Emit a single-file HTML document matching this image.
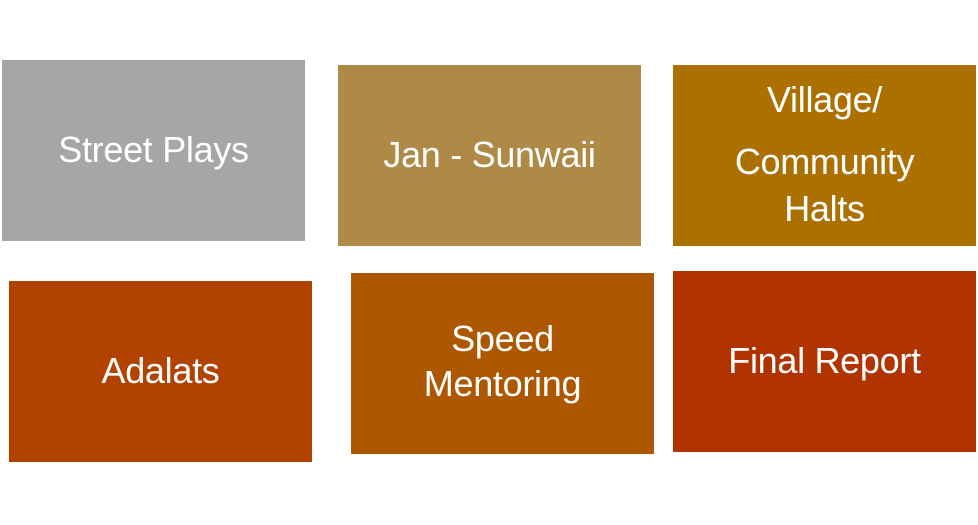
<!DOCTYPE html>
<html><head><style>
body{margin:0;width:978px;height:525px;background:#fff;position:relative;overflow:hidden;font-family:"Liberation Sans",sans-serif;}
.b{position:absolute;width:303px;height:181px;}
.t{position:absolute;left:0;width:100%;text-align:center;color:#fff;font-size:36px;line-height:32px;white-space:nowrap;letter-spacing:-0.3px;}
</style></head><body>
<div class="b" style="left:2px;top:60px;background:#a6a6a6"><div class="t" style="top:74px">Street Plays</div></div>
<div class="b" style="left:338px;top:65px;background:#ae8a46"><div class="t" style="top:74px">Jan - Sunwaii</div></div>
<div class="b" style="left:673px;top:65px;background:#ab7000"><div class="t" style="top:19px">Village/</div><div class="t" style="top:81px">Community</div><div class="t" style="top:128px">Halts</div></div>
<div class="b" style="left:9px;top:281px;background:#b14200"><div class="t" style="top:74px">Adalats</div></div>
<div class="b" style="left:351px;top:273px;background:#ad5800"><div class="t" style="top:50px">Speed</div><div class="t" style="top:95px">Mentoring</div></div>
<div class="b" style="left:673px;top:271px;background:#b13400"><div class="t" style="top:74px">Final Report</div></div>
</body></html>
